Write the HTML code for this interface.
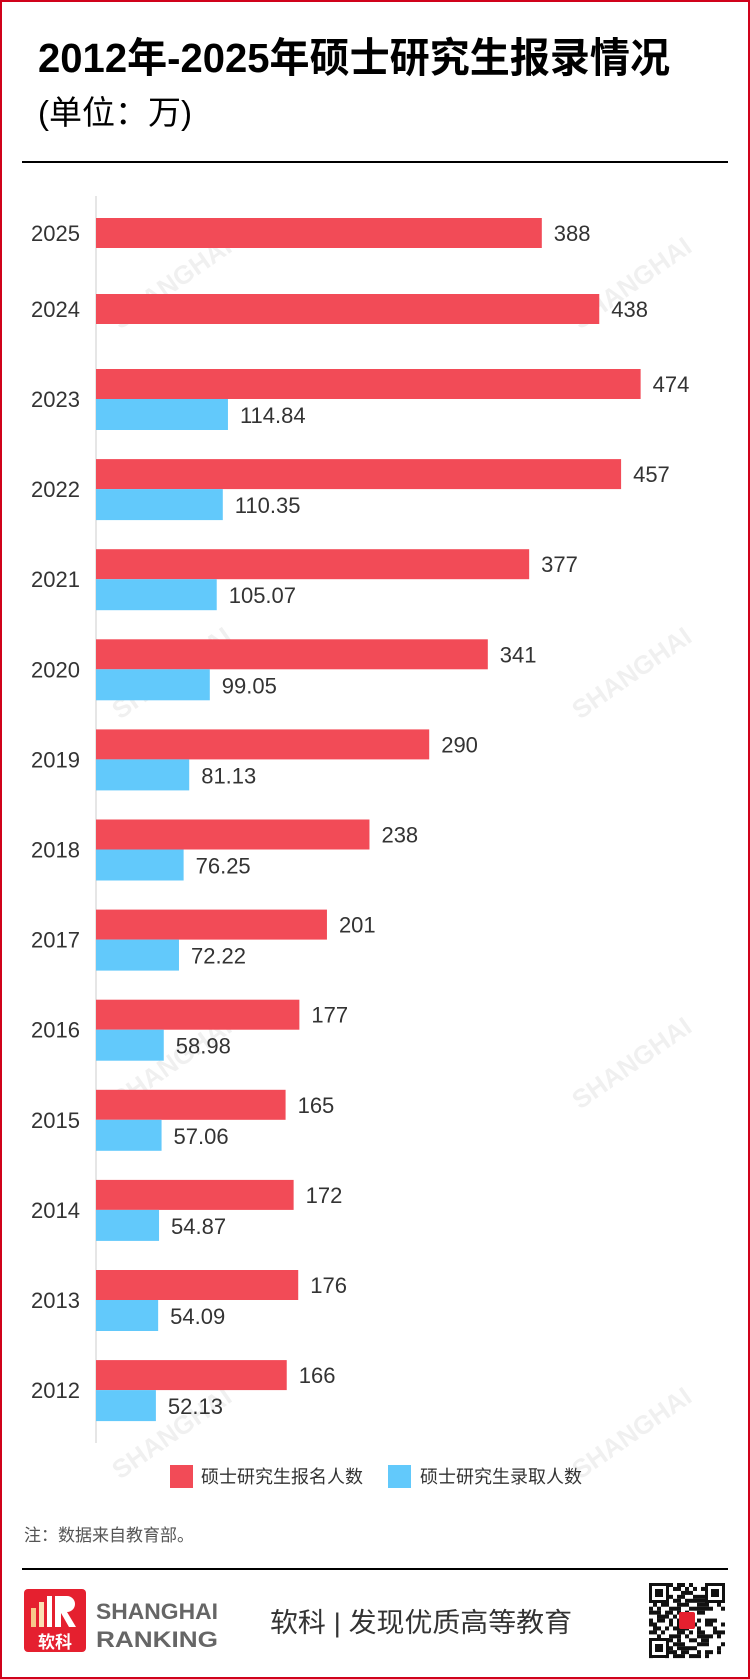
<!DOCTYPE html>
<html><head><meta charset="utf-8"><style>
html,body{margin:0;padding:0;background:#fff}
svg{display:block}
text{font-family:"Liberation Sans","Noto Sans CJK SC",sans-serif}
</style></head><body>
<svg id="c" width="750" height="1679" viewBox="0 0 750 1679" xmlns="http://www.w3.org/2000/svg">
<rect x="1" y="1" width="748" height="1677" fill="#fff" stroke="#d0021b" stroke-width="2"/>
<text x="38" y="72" font-size="41" font-weight="bold" fill="#000" textLength="632" lengthAdjust="spacingAndGlyphs">2012年-2025年硕士研究生报录情况</text>
<text x="38" y="124" font-size="33" fill="#000">(单位：万)</text>
<rect x="22" y="161" width="706" height="2" fill="#000"/>
<g id="wm" opacity="0.06" fill="#000"></g>
<line x1="96" y1="196" x2="96" y2="1443" stroke="#ddd" stroke-width="1.5"/>
<g id="bars"></g>
<rect x="170" y="1465" width="23" height="23" fill="#f24b57"/>
<text x="201" y="1483" font-size="18" fill="#333">硕士研究生报名人数</text>
<rect x="388" y="1465" width="23" height="23" fill="#62c9fb"/>
<text x="420" y="1483" font-size="18" fill="#333">硕士研究生录取人数</text>
<text x="24" y="1541" font-size="17" fill="#555">注：数据来自教育部。</text>
<rect x="22" y="1568" width="706" height="2" fill="#000"/>
<g>
<rect x="24" y="1589" width="62" height="63" rx="4" fill="#e5202f"/>
<rect x="31" y="1608" width="5" height="19" fill="#f7c98a"/>
<rect x="39" y="1602" width="5" height="25" fill="#fbe0b5"/>
<rect x="47" y="1596" width="5" height="31" fill="#fff"/>
<path d="M55 1596 h12 a8 8 0 0 1 0 16 l9 15 h-7 l-8 -14 v14 h-6z" fill="#fff"/>
<text x="55" y="1648" font-size="17" font-weight="bold" fill="#fff" text-anchor="middle">软科</text>
</g>
<text x="96" y="1619" font-size="22" font-weight="bold" fill="#666" textLength="122" lengthAdjust="spacingAndGlyphs">SHANGHAI</text>
<text x="96" y="1647" font-size="22" font-weight="bold" fill="#666" textLength="122" lengthAdjust="spacingAndGlyphs">RANKING</text>
<text x="270" y="1632" font-size="27" fill="#333" textLength="302" lengthAdjust="spacingAndGlyphs">软科 | 发现优质高等教育</text>
<g id="qr"></g>
</svg>
<script>
const years = ["2025","2024","2023","2022","2021","2020","2019","2018","2017","2016","2015","2014","2013","2012"];
const registered = [388,438,474,457,377,341,290,238,201,177,165,172,176,166];
const admitted = [null,null,114.84,110.35,105.07,99.05,81.13,76.25,72.22,58.98,57.06,54.87,54.09,52.13];
const regLabels = ["388","438","474","457","377","341","290","238","201","177","165","172","176","166"];
const admLabels = ["","","114.84","110.35","105.07","99.05","81.13","76.25","72.22","58.98","57.06","54.87","54.09","52.13"];

const NS="http://www.w3.org/2000/svg";
const x0=96, kx=1.149, barH=30;
function xScale(v){return x0+v*kx;}
function yCenter(i){ if(i===0) return 233; if(i===1) return 309; return 399+(i-2)*90.1; }
function mk(tag,attrs,parent){const e=document.createElementNS(NS,tag);for(const k in attrs)e.setAttribute(k,attrs[k]);parent.appendChild(e);return e;}
const g=document.getElementById('bars');
years.forEach((yr,i)=>{
  const c=yCenter(i);
  const hasAdm=admitted[i]!==null;
  const ry=hasAdm?c-barH:c-barH/2;
  const t=mk('text',{x:80,y:c+8,'font-size':22,fill:'#333','text-anchor':'end'},g);
  t.textContent=yr;
  
  
  const r=mk('rect',{x:x0,y:ry,width:xScale(registered[i])-x0,height:barH,fill:'#f24b57'},g);
  
  
  const l=mk('text',{x:xScale(registered[i])+12,y:ry+23,'font-size':22,fill:'#333'},g);
  l.textContent=regLabels[i];
  
  
  if(hasAdm){
    const b=mk('rect',{x:x0,y:c,width:xScale(admitted[i])-x0,height:barH+1,fill:'#62c9fb'},g);
    
    
    const bl=mk('text',{x:xScale(admitted[i])+12,y:c+24,'font-size':22,fill:'#333'},g);
    bl.textContent=admLabels[i];
    
    
  }
});
// watermarks
const wm=document.getElementById('wm');
[[120,330],[580,330],[120,720],[580,720],[120,1110],[580,1110],[120,1480],[580,1480]].forEach(p=>{
  const t=mk('text',{x:p[0],y:p[1],'font-size':26,'font-weight':'bold',transform:'rotate(-35 '+p[0]+' '+p[1]+')'},wm);
  t.textContent='SHANGHAI';
  
  
});
// qr code
const qr=document.getElementById('qr');
mk('rect',{x:649,y:1583,width:76,height:75,fill:'#fff'},qr);
const pat=[0x5a3,0x2c9,0x71e,0x1b4,0x6d2,0x39a,0x4e5,0x2b7,0x75c,0x1ad,0x6a3,0x3d6,0x58b,0x2e4,0x4b9,0x1d7,0x7a2,0x36c,0x5d1];
for(let r=0;r<19;r++){for(let cI=0;cI<19;cI++){
  if((pat[r]>>(cI%11))&1 ^ (cI>10?(pat[(r+5)%19]>>(cI-8))&1:0)) mk('rect',{x:649+cI*4,y:1583+r*3.95,width:4,height:4,fill:'#111'},qr);
}}
[[649,1583],[705,1583],[649,1638]].forEach(p=>{
  mk('rect',{x:p[0],y:p[1],width:20,height:20,fill:'#fff'},qr);
  mk('rect',{x:p[0]+1.5,y:p[1]+1.5,width:17,height:17,fill:'none',stroke:'#111','stroke-width':3},qr);
  mk('rect',{x:p[0]+6,y:p[1]+6,width:8,height:8,fill:'#111'},qr);
});
mk('rect',{x:679,y:1612,width:16,height:17,rx:2,fill:'#e5202f'},qr);
</script>
</body></html>
